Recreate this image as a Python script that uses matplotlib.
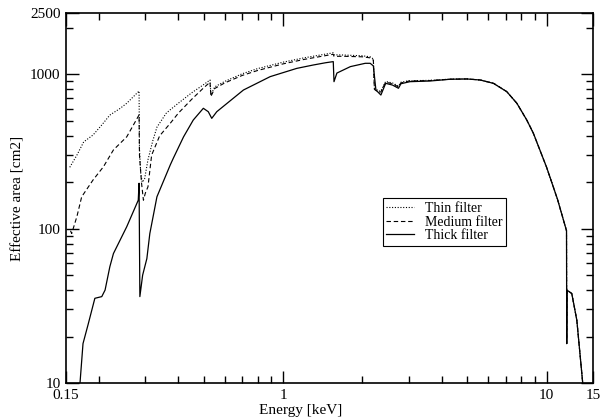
import matplotlib

matplotlib.use("Agg")

import matplotlib.pyplot as plt
from matplotlib.ticker import FixedLocator, FixedFormatter, NullFormatter

plt.rcParams["font.family"] = ["Liberation Serif", "DejaVu Serif"]

# Effective area curves (keV, cm2) for the three filter thicknesses
thin_energy = [0.155, 0.165, 0.175, 0.19, 0.205, 0.22, 0.24, 0.255, 0.284, 0.285,
               0.288, 0.292, 0.298, 0.307, 0.32, 0.332, 0.36, 0.373, 0.40, 0.45,
               0.50, 0.528, 0.532, 0.55, 0.6, 0.7, 0.8, 1.0, 1.2, 1.4, 1.55, 1.56,
               1.7, 2.0, 2.14, 2.2, 2.22, 2.3, 2.35, 2.45, 2.6, 2.74, 2.8, 3.0,
               3.6, 4.3, 5.0, 5.6, 6.3, 7.06, 7.71, 8.41, 8.91, 10.0, 11.0, 11.9,
               11.92, 11.95, 12.46, 13.02, 13.71]
thin_area = [250, 300, 365, 405, 470, 545, 600, 650, 780, 330,
             230, 200, 210, 280, 370, 455, 560, 590, 650, 760,
             860, 920, 735, 830, 900, 1010, 1090, 1200, 1280, 1340, 1380, 1340,
             1335, 1320, 1300, 1260, 820, 780, 780, 900, 880, 840, 890, 910,
             915, 932, 935, 920, 875, 773, 650, 506, 415, 250, 155, 97,
             18, 40, 38, 25.6, 10]

medium_energy = [0.156, 0.1576, 0.165, 0.172, 0.19, 0.208, 0.227, 0.255, 0.284,
                 0.285, 0.29, 0.295, 0.3, 0.307, 0.317, 0.34, 0.373, 0.40, 0.45,
                 0.50, 0.528, 0.532, 0.55, 0.6, 0.7, 0.8, 1.0, 1.2, 1.4, 1.55,
                 1.56, 1.7, 2.0, 2.14, 2.2, 2.22, 2.3, 2.35, 2.45, 2.6, 2.74,
                 2.8, 3.0, 3.6, 4.3, 5.0, 5.6, 6.3, 7.06, 7.71, 8.41, 8.91, 10.0,
                 11.0, 11.9, 11.92, 11.95, 12.46, 13.02, 13.71]
medium_area = [97, 93, 120, 161, 207, 252, 324, 394, 546,
               300, 200, 153, 170, 187, 300, 400, 482, 560, 690,
               820, 890, 720, 810, 880, 985, 1060, 1170, 1250, 1310, 1350,
               1310, 1310, 1300, 1280, 1240, 800, 765, 770, 890, 870, 830,
               880, 905, 912, 930, 934, 920, 875, 773, 650, 506, 415, 250,
               155, 97, 18, 40, 38, 25.6, 10]

thick_energy = [0.1695, 0.174, 0.182, 0.193, 0.205, 0.211, 0.220, 0.227, 0.255,
                0.282, 0.284, 0.286, 0.293, 0.304, 0.312, 0.332, 0.373, 0.383,
                0.419, 0.456, 0.498, 0.520, 0.536, 0.560, 0.707, 0.893, 1.127,
                1.3, 1.45, 1.55, 1.56, 1.6, 1.8, 2.05, 2.14, 2.2, 2.25, 2.35,
                2.45, 2.6, 2.74, 2.8, 3.03, 3.61, 4.30, 4.98, 5.59, 6.28, 7.06,
                7.71, 8.41, 8.91, 10.0, 11.0, 11.9, 11.92, 11.95, 12.46, 13.02,
                13.71]
thick_area = [10, 18, 24, 35.4, 36.3, 40, 56.7, 69, 103,
              153, 197, 36.3, 50, 64, 93, 161, 259, 286,
              394, 506, 603, 573, 519, 573, 792, 967, 1094,
              1150, 1190, 1210, 897, 1020, 1123, 1180, 1180, 1135, 792, 735,
              875, 853, 813, 870, 897, 906, 930, 934, 920, 875, 773,
              650, 506, 415, 250, 155, 97, 18, 40, 38, 25.6,
              10]

x_ticks = [0.15, 1, 10, 15]
x_tick_labels = ["0.15", "1", "10", "15"]
y_ticks = [10, 100, 1000, 2500]
y_tick_labels = ["10", "100", "1000", "2500"]

fig = plt.figure(figsize=(6.04, 4.19), dpi=100)
ax = fig.add_axes([0.1093, 0.0859, 0.8725, 0.8831])

ax.plot(thin_energy, thin_area, color="black", linewidth=0.8,
        linestyle=(0, (1, 1.5)), label="Thin filter")
ax.plot(medium_energy, medium_area, color="black", linewidth=0.8,
        linestyle=(0, (4, 2.5)), label="Medium filter")
ax.plot(thick_energy, thick_area, color="black", linewidth=0.9,
        linestyle="-", label="Thick filter")

ax.set_xscale("log")
ax.set_yscale("log")
ax.set_xlim(0.15, 15)
ax.set_ylim(10, 2500)

ax.xaxis.set_major_locator(FixedLocator(x_ticks))
ax.xaxis.set_major_formatter(FixedFormatter(x_tick_labels))
ax.xaxis.set_minor_locator(FixedLocator(
    [0.2, 0.3, 0.4, 0.5, 0.6, 0.7, 0.8, 0.9, 2, 3, 4, 5, 6, 7, 8, 9]))
ax.xaxis.set_minor_formatter(NullFormatter())
ax.yaxis.set_major_locator(FixedLocator(y_ticks))
ax.yaxis.set_major_formatter(FixedFormatter(y_tick_labels))
ax.yaxis.set_minor_locator(FixedLocator(
    [20, 30, 40, 50, 60, 70, 80, 90, 200, 300, 400, 500, 600, 700, 800, 900, 2000]))
ax.yaxis.set_minor_formatter(NullFormatter())

ax.tick_params(which="both", direction="in", top=True, right=True,
               labelsize=11, width=1.0)
ax.tick_params(axis="x", pad=4)
ax.tick_params(axis="y", pad=4)
ax.tick_params(which="major", length=9)
ax.tick_params(which="minor", length=5)
for spine in ax.spines.values():
    spine.set_linewidth(1.2)

ax.set_xlabel("Energy [keV]", fontsize=11, labelpad=0)
ax.xaxis.set_label_coords(0.445, -0.058)
ax.set_ylabel("Effective area [cm2]", fontsize=11, labelpad=4)

legend = ax.legend(loc="upper left", bbox_to_anchor=(0.601, 0.499),
                   fontsize=10, frameon=True, fancybox=False, framealpha=1,
                   edgecolor="black", handlelength=2.0, handletextpad=0.8,
                   borderpad=0.25, labelspacing=0.05, borderaxespad=0)
legend.get_frame().set_linewidth(0.8)

fig.savefig("out.png", dpi=100)
